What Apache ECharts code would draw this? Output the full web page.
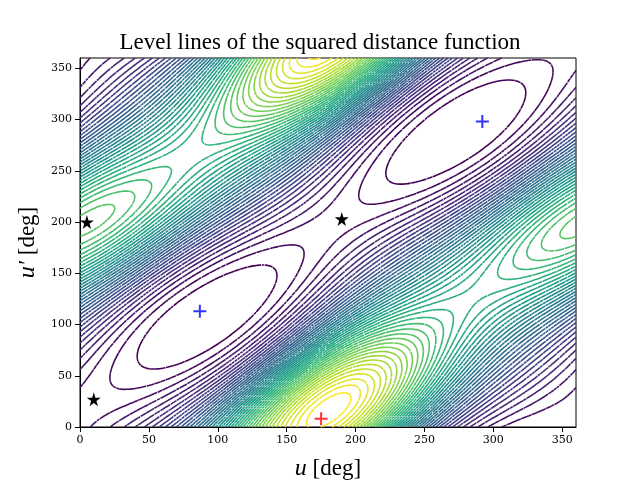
<!DOCTYPE html>
<html><head><meta charset="utf-8">
<script src="https://cdn.jsdelivr.net/npm/echarts@6/dist/echarts.min.js"></script>
</head><body style="margin:0">
<div id="chart" style="width:640px;height:480px"></div>
<script>
// marked points
var minima = [[87,113],[292,298]];
var maxima = [[175,8]];
var saddles = [[5,200],[10,27],[190,203]];
// shape of the level set (phase offsets in deg, weights)
var diffPhase = -15, sumPhase = 200, diffWeight = 1, sumWeight = 0.2, power = 1.55;
var uPhase = 175, uWeight = 0.12;
var nLevels = 46;

var viridis = ['#440154','#482878','#3e4989','#31688e','#26828e','#1f9e89','#35b779','#6ece58','#b5de2b','#fde725'];
function hex(c){return [parseInt(c.substr(1,2),16),parseInt(c.substr(3,2),16),parseInt(c.substr(5,2),16)];}
function cmap(t){
    var p=t*(viridis.length-1), i=Math.min(Math.floor(p),viridis.length-2), f=p-i;
    var a=hex(viridis[i]), b=hex(viridis[i+1]);
    return 'rgb('+[0,1,2].map(function(k){return Math.round(a[k]+(b[k]-a[k])*f)}).join(',')+')';
}
var R=Math.PI/180;
function dist(u,v){
    var c=Math.cos((u-v-diffPhase)*R);
    return 1-c*(diffWeight+sumWeight*Math.cos((u+v-sumPhase)*R))+uWeight*(1-c)*Math.cos((u-uPhase)*R);
}
var step=2, n=360/step+1, grid=[];
for(var j=0;j<n;j++){grid.push([]);for(var i=0;i<n;i++)grid[j].push(dist(i*step,j*step));}
var lo=Infinity,hi=-Infinity;
grid.forEach(function(r){r.forEach(function(z){lo=Math.min(lo,z);hi=Math.max(hi,z);})});
grid=grid.map(function(r){return r.map(function(z){return Math.pow((z-lo)/(hi-lo),power);})});

function interp(x1,y1,z1,x2,y2,z2,L){var t=(L-z1)/(z2-z1);return [x1+(x2-x1)*t,y1+(y2-y1)*t];}
var series=[];
for(var k=1;k<=nLevels;k++){
    var L=k/(nLevels+1), data=[];
    for(var j=0;j<n-1;j++)for(var i=0;i<n-1;i++){
        var x0=i*step,y0=j*step,x1=x0+step,y1=y0+step;
        var a=grid[j][i],b=grid[j][i+1],c=grid[j+1][i+1],d=grid[j+1][i];
        var pts=[];
        if((a<L)!=(b<L))pts.push(interp(x0,y0,a,x1,y0,b,L));
        if((b<L)!=(c<L))pts.push(interp(x1,y0,b,x1,y1,c,L));
        if((c<L)!=(d<L))pts.push(interp(x1,y1,c,x0,y1,d,L));
        if((d<L)!=(a<L))pts.push(interp(x0,y1,d,x0,y0,a,L));
        for(var p=0;p+1<pts.length;p+=2){data.push(pts[p],pts[p+1],'-');}
    }
    series.push({type:'line',data:data,showSymbol:false,silent:true,connectNulls:false,
        lineStyle:{width:1.6,color:cmap((k-1)/(nLevels-1))},z:1});
}
var plus='path://M0,5L10,5M5,0L5,10';
series.push({type:'scatter',data:minima,symbol:plus,symbolSize:13,z:5,itemStyle:{color:'none',borderColor:'#0000ff',borderWidth:2}});
series.push({type:'scatter',data:maxima,symbol:plus,symbolSize:13,z:5,itemStyle:{color:'none',borderColor:'#ff0000',borderWidth:2}});
series.push({type:'scatter',data:saddles,symbol:'path://M50,0L61,35L98,35L68,57L79,91L50,70L21,91L32,57L2,35L39,35Z',
    symbolSize:14,z:5,itemStyle:{color:'#000',opacity:1}});

var chart=echarts.init(document.getElementById('chart'));
var axisCommon={type:'value',min:0,max:360,interval:50,splitLine:{show:false},
    axisLine:{onZero:false,lineStyle:{color:'#000'}},axisTick:{lineStyle:{color:'#000'}},
    axisLabel:{color:'#000',fontFamily:'DejaVu Serif',fontSize:11},
    nameLocation:'middle',nameTextStyle:{fontFamily:'Liberation Serif',fontSize:23,color:'#000',
        rich:{i:{fontFamily:'Liberation Serif',fontStyle:'italic',fontSize:24}}}};
chart.setOption({
    animation:false,
    title:{text:'Level lines of the squared distance function',left:'center',top:26,
        textStyle:{fontFamily:'Liberation Serif',fontWeight:'normal',fontSize:23,color:'#000'}},
    grid:{left:80,right:64,top:58,bottom:53,show:true,borderColor:'#000',borderWidth:1,
        containLabel:false,outerBoundsMode:'none'},
    xAxis:Object.assign({},axisCommon,{name:'{i|u} [deg]',nameGap:30}),
    yAxis:Object.assign({},axisCommon,{name:"{i|u′} [deg]",nameGap:38}),
    series:series
});
</script>
</body></html>
